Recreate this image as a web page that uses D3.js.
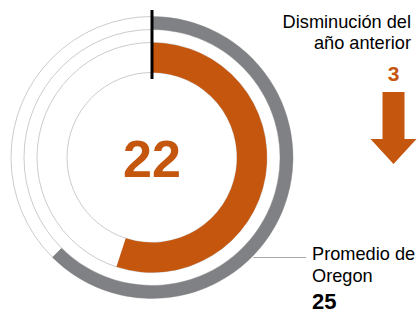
<!DOCTYPE html>
<meta charset="utf-8">
<script src="https://d3js.org/d3.v7.min.js"></script>
<style type="text/css">
  body { margin: 0; background: #fff; }
  svg text { font-family: "Liberation Sans", Arial, sans-serif; }
</style>
<body>
</body>
<script>

// data
var maxValue = 40;
var countyValue = [22];
var stateValue = [25];
var changeValue = [3];
var stateLabel = ["Promedio de", "Oregon"];
var changeLabel = ["Disminución del", "año anterior"];

var orange = "#c5560e";
var grey = "#808184";
var track = "#cccccc";

var width = 420, height = 311;
var cx = 152, cy = 157.5;

var svg = d3.select("body").append("svg")
  .attr("width", width)
  .attr("height", height);

var g = svg.append("g")
  .attr("transform", `translate(${cx},${cy})`);

var angle = d3.scaleLinear()
  .domain([0, maxValue])
  .range([0, 2 * Math.PI]);

// rings: outer = state average, inner = county
var rings = [
  {inner: 128, outer: 141, value: stateValue[0], color: grey},
  {inner: 85, outer: 115, value: countyValue[0], color: orange}
];

rings.forEach(r => {
  // thin track outlines
  [r.inner, r.outer].forEach(rad => {
    g.append("circle")
      .attr("r", rad)
      .style("fill", "none")
      .style("stroke", track)
      .style("stroke-width", 1);
  });

  var arc = d3.arc()
    .innerRadius(r.inner)
    .outerRadius(r.outer)
    .startAngle(angle(0))
    .endAngle(angle(r.value));

  g.append("path")
    .attr("d", arc())
    .style("fill", r.color);
});

// start tick at zero
var a0 = angle(0);
g.append("line")
  .attr("x1", Math.sin(a0) * 78.5)
  .attr("y1", -Math.cos(a0) * 78.5)
  .attr("x2", Math.sin(a0) * 147.5)
  .attr("y2", -Math.cos(a0) * 147.5)
  .style("stroke", "#000")
  .style("stroke-width", 3);

// center value
g.append("text")
  .attr("text-anchor", "middle")
  .attr("y", 19)
  .style("font-size", "52px")
  .style("font-weight", "bold")
  .style("fill", orange)
  .text(countyValue[0]);

// leader line to state label
var ly = 257.5;
var lx = cx + Math.sqrt(141 * 141 - (ly - cy) * (ly - cy)) + 2;
svg.append("line")
  .attr("x1", lx)
  .attr("x2", 306)
  .attr("y1", ly)
  .attr("y2", ly)
  .style("stroke", "#a7a7a7")
  .style("stroke-width", 1.2);

svg.append("text")
  .attr("x", 312)
  .attr("y", 260)
  .style("font-size", "18.2px")
  .style("fill", "#000")
  .selectAll("tspan")
  .data(stateLabel)
  .enter().append("tspan")
  .attr("x", 312)
  .attr("dy", (d, i) => i ? 22 : 0)
  .text(d => d);

svg.append("text")
  .attr("x", 312)
  .attr("y", 309)
  .style("font-size", "22px")
  .style("font-weight", "bold")
  .style("fill", "#000")
  .text(stateValue[0]);

// change from last year
svg.append("text")
  .attr("text-anchor", "end")
  .attr("y", 28)
  .style("font-size", "18.2px")
  .style("fill", "#000")
  .selectAll("tspan")
  .data(changeLabel)
  .enter().append("tspan")
  .attr("x", 411)
  .attr("dy", (d, i) => i ? 21 : 0)
  .text(d => d);

svg.append("text")
  .attr("x", 393.5)
  .attr("y", 81)
  .attr("text-anchor", "middle")
  .style("font-size", "21px")
  .style("font-weight", "bold")
  .style("fill", orange)
  .text(changeValue[0]);

// down arrow
var ax = 393.5;
svg.append("path")
  .attr("d", `M${ax - 11},92 L${ax + 11},92 L${ax + 11},139 L${ax + 23},139 L${ax},164 L${ax - 23},139 L${ax - 11},139 Z`)
  .style("fill", orange);

</script>
